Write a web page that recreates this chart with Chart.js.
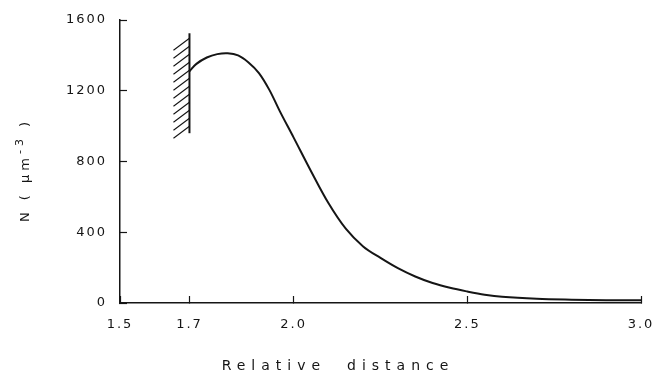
<!DOCTYPE html>
<html>
<head>
<meta charset="utf-8">
<script src="https://cdn.jsdelivr.net/npm/chart.js@4/dist/chart.umd.min.js"></script>
<style>
  html, body { margin: 0; padding: 0; background: #fff; }
  #wrap { width: 654px; height: 388px; }
</style>
</head>
<body>
<div id="wrap"><canvas id="densityChart"></canvas></div>
<script>
// --- data ---
const distance = [1.70, 1.72, 1.75, 1.78, 1.81, 1.84, 1.87, 1.90, 1.93, 1.96, 2.00,
                  2.05, 2.10, 2.15, 2.20, 2.25, 2.30, 2.35, 2.40, 2.45, 2.50,
                  2.55, 2.60, 2.70, 2.80, 2.90, 3.00];
const density  = [1310, 1352, 1388, 1407, 1412, 1400, 1360, 1300, 1205, 1085, 935,
                  745, 565, 420, 320, 255, 197, 150, 113, 86, 65,
                  47, 35, 24, 19, 16, 15];
const xTicks = [1.5, 1.7, 2.0, 2.5, 3.0];
const yTicks = [0, 400, 800, 1200, 1600];

// hard wall at the left boundary
const wallX = 1.7;
const wallTop = 1525;
const wallBottom = 960;

const ink = '#151515';
const fontFamily = "'DejaVu Sans', sans-serif";

// letter spacing for the plotter-style labels
const spacingPlugin = {
    id: 'spacing',
    beforeLayout(chart) { chart.ctx.letterSpacing = '2px'; },
    beforeDraw(chart)   { chart.ctx.letterSpacing = '2px'; },
};

// hatched wall + axis titles
const decorPlugin = {
    id: 'decor',
    afterDatasetsDraw(chart) {
        const { ctx, scales: { x, y } } = chart;
        const wx = x.getPixelForValue(wallX);
        const top = y.getPixelForValue(wallTop);
        const bottom = y.getPixelForValue(wallBottom);

        ctx.save();
        ctx.strokeStyle = ink;
        ctx.lineWidth = 2;
        ctx.beginPath();
        ctx.moveTo(wx, top);
        ctx.lineTo(wx, bottom);
        ctx.stroke();

        ctx.lineWidth = 1.1;
        ctx.beginPath();
        for (let py = top + 5; py <= bottom; py += 8) {
            ctx.moveTo(wx, py);
            ctx.lineTo(wx - 16, py + 12);
        }
        ctx.stroke();
        ctx.restore();
    },
    afterDraw(chart) {
        const { ctx } = chart;
        ctx.save();
        ctx.fillStyle = ink;
        ctx.textBaseline = 'middle';

        ctx.font = `14px ${fontFamily}`;
        ctx.textAlign = 'center';
        ctx.letterSpacing = '6px';
        ctx.fillText('Relative  distance', 338, 366);

        // y title: N ( μm^-3 ), rotated
        ctx.letterSpacing = '4px';
        ctx.textAlign = 'left';
        const main = 'N ( μm', sup = '-3', tail = ' )';
        ctx.font = `13px ${fontFamily}`;
        const wMain = ctx.measureText(main).width;
        const wTail = ctx.measureText(tail).width;
        ctx.font = `11px ${fontFamily}`;
        const wSup = ctx.measureText(sup).width;
        const total = wMain + wSup + wTail;

        ctx.translate(26, 170);
        ctx.rotate(-Math.PI / 2);
        let cx = -total / 2;
        ctx.font = `13px ${fontFamily}`;
        ctx.fillText(main, cx, 0);
        cx += wMain;
        ctx.font = `11px ${fontFamily}`;
        ctx.fillText(sup, cx, -6);
        cx += wSup;
        ctx.font = `13px ${fontFamily}`;
        ctx.fillText(tail, cx, 0);
        ctx.restore();
    },
};

new Chart(document.getElementById('densityChart'), {
    type: 'line',
    data: {
        datasets: [{
            data: distance.map((d, i) => ({ x: d, y: density[i] })),
            borderColor: ink,
            borderWidth: 2,
            pointRadius: 0,
            fill: false,
            tension: 0.35,
        }],
    },
    options: {
        responsive: true,
        maintainAspectRatio: false,
        animation: false,
        layout: { padding: { top: 20, right: 13, left: 0, bottom: 0 } },
        plugins: {
            legend: { display: false },
            tooltip: { enabled: false },
        },
        scales: {
            x: {
                type: 'linear',
                min: 1.5,
                max: 3.0,
                afterBuildTicks: s => { s.ticks = xTicks.map(v => ({ value: v })); },
                afterFit: s => {
                    s.height = 85;
                    s.paddingLeft = 0;
                    s.paddingRight = 0;
                },
                grid: {
                    drawOnChartArea: false,
                    color: ink,
                    tickLength: -7,
                    tickWidth: 1.2,
                },
                border: { color: ink, width: 1.5 },
                ticks: {
                    padding: 21,
                    color: ink,
                    font: { family: fontFamily, size: 13 },
                    callback: v => Number(v).toFixed(1),
                },
            },
            y: {
                type: 'linear',
                min: 0,
                max: 1600,
                afterBuildTicks: s => { s.ticks = yTicks.map(v => ({ value: v })); },
                afterFit: s => {
                    s.width = 120;
                    s.paddingTop = 0;
                    s.paddingBottom = 0;
                },
                grid: {
                    drawOnChartArea: false,
                    color: ink,
                    tickLength: -7,
                    tickWidth: 1.2,
                },
                border: { color: ink, width: 1.5 },
                ticks: {
                    padding: 20,
                    color: ink,
                    font: { family: fontFamily, size: 13 },
                    callback: v => String(v),
                },
            },
        },
    },
    plugins: [spacingPlugin, decorPlugin],
});
</script>
</body>
</html>
